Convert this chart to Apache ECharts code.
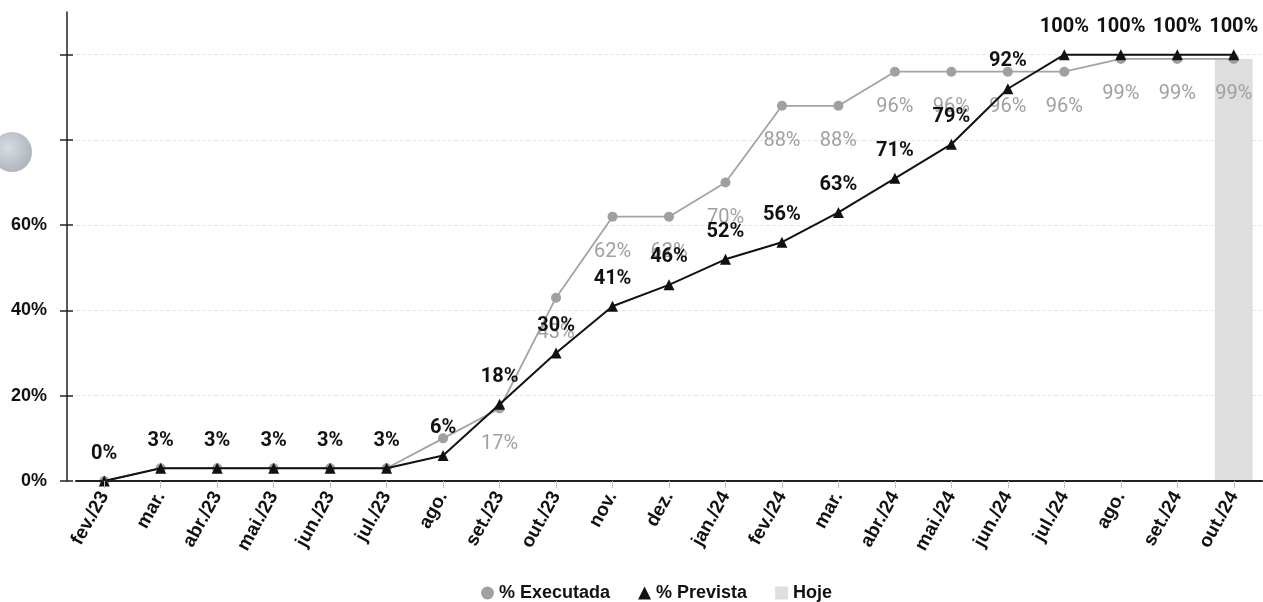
<!DOCTYPE html>
<html>
<head>
<meta charset="utf-8">
<script src="https://cdn.jsdelivr.net/npm/echarts@6/dist/echarts.min.js"></script>
<style>
html,body{margin:0;padding:0;background:#fff;}
#c{width:1263px;height:602px;}
</style>
</head>
<body>
<div id="c"></div>
<script>
const categories = ['fev./23','mar.','abr./23','mai./23','jun./23','jul./23','ago.','set./23','out./23','nov.','dez.','jan./24','fev./24','mar.','abr./24','mai./24','jun./24','jul./24','ago.','set./24','out./24'];
const executada = [0,3,3,3,3,3,10,17,43,62,62,70,88,88,96,96,96,96,99,99,99];
const prevista = [0,3,3,3,3,3,6,18,30,41,46,52,56,63,71,79,92,100,100,100,100];
const hoje = [null,null,null,null,null,null,null,null,null,null,null,null,null,null,null,null,null,null,null,null,99];
const yTickValues = [0,20,40,60,80,100];
const yLabelValues = [0,20,40,60];
const execLabelFrom = 7;

const yBase = {type:'value',min:0,max:110,interval:10,position:'left',offset:9};

const chart = echarts.init(document.getElementById('c'));
chart.setOption({
  animation:false,
  textStyle:{fontFamily:'Roboto, Arial, sans-serif'},
  grid:{left:76,right:1,top:12,bottom:121,containLabel:false},
  legend:{
    top:579,left:476,itemGap:28,itemWidth:13,itemHeight:13,
    textStyle:{fontFamily:'Liberation Sans, Arial, sans-serif',fontWeight:'bold',fontSize:18,color:'#111'},
    data:[
      {name:'% Executada',icon:'circle'},
      {name:'% Prevista',icon:'triangle'},
      {name:'Hoje',icon:'rect'}
    ]
  },
  xAxis:{
    type:'category',data:categories,boundaryGap:true,
    axisLine:{lineStyle:{color:'#222',width:2},onZero:true},
    axisTick:{show:true,alignWithLabel:true,length:7,lineStyle:{color:'#c4c4c4'}},
    axisLabel:{rotate:61,interval:0,fontFamily:'Liberation Sans, Arial, sans-serif',fontWeight:'bold',fontSize:19,color:'#111',margin:12},
    splitLine:{show:false},
    z:5
  },
  yAxis:[
    Object.assign({},yBase,{
      axisLine:{show:true,lineStyle:{color:'#222',width:1.5}},
      axisTick:{show:true,length:7,customValues:yTickValues,lineStyle:{color:'#222',width:1.5}},
      axisLabel:{fontFamily:'Liberation Sans, Arial, sans-serif',fontWeight:'bold',fontSize:18,color:'#111',margin:20,
        customValues:yLabelValues,formatter:'{value}%'},
      splitLine:{show:false}
    }),
    Object.assign({},yBase,{
      axisLine:{show:false},
      axisTick:{show:true,inside:true,length:6,customValues:yTickValues,lineStyle:{color:'#222',width:1.5}},
      axisLabel:{show:false},
      splitLine:{show:false}
    })
  ],
  series:[
    {
      name:'Hoje',type:'bar',data:hoje,barWidth:'67%',
      itemStyle:{color:'#dedede'},z:1,silent:true,
      markLine:{
        silent:true,symbol:'none',label:{show:false},z:0,
        lineStyle:{color:'#e6e6e6',type:'dashed',width:1},
        data:yTickValues.slice(1).map(v=>({yAxis:v}))
      }
    },
    {
      name:'% Executada',type:'line',data:executada,
      symbol:'circle',symbolSize:10,
      lineStyle:{color:'#a3a3a3',width:1.8},
      itemStyle:{color:'#a0a0a0'},
      label:{show:true,position:'bottom',distance:20,color:'#a0a0a0',fontSize:20,
        formatter:p=>p.dataIndex>=execLabelFrom?p.value+'%':''},
      z:3
    },
    {
      name:'% Prevista',type:'line',data:prevista,
      symbol:'triangle',symbolSize:11,
      lineStyle:{color:'#111',width:2},
      itemStyle:{color:'#111'},
      label:{show:true,position:'top',distance:12,color:'#111',fontWeight:'bold',fontSize:20,
        formatter:p=>p.value+'%'},
      z:4
    }
  ],
  graphic:[{
    type:'circle',shape:{cx:12,cy:152,r:20},
    style:{fill:new echarts.graphic.RadialGradient(0.4,0.4,0.7,[{offset:0,color:'#d8dde2'},{offset:1,color:'#a9b0b8'}])},
    z:10
  }]
});
</script>
</body>
</html>
